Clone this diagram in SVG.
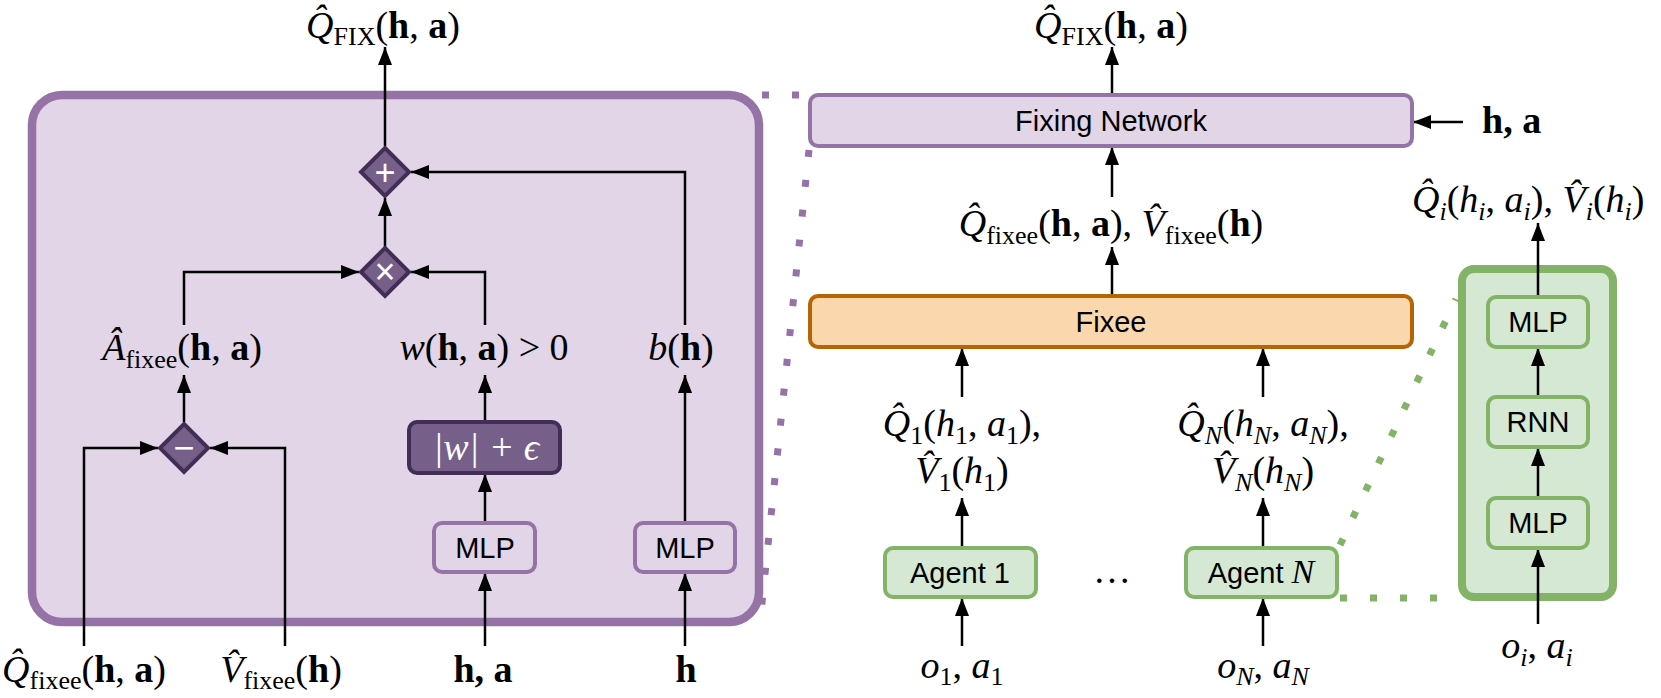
<svg xmlns="http://www.w3.org/2000/svg" width="1661" height="698" viewBox="0 0 1661 698">
<style>
.m{font-family:"Liberation Serif","DejaVu Serif",serif;font-size:38px;fill:#000;text-anchor:middle}
.i{font-style:italic}
.b{font-weight:bold}
.s{font-size:26px}
.t{font-family:"Liberation Sans",Arial,sans-serif;font-size:29px;text-anchor:middle;fill:#000}
.pl{fill:#e1d5e7;stroke:#9673a6;stroke-width:4}
.pd{fill:#76608a;stroke:#432d57;stroke-width:4}
.gr{fill:#d5e8d4;stroke:#82b366;stroke-width:4}
.or{fill:#fad7ac;stroke:#b46504;stroke-width:4}
.c{fill:none;stroke:#000;stroke-width:2.5;marker-end:url(#ah)}
.dp{fill:none;stroke:#9673a6;stroke-width:7;stroke-dasharray:7 23}
.dg{fill:none;stroke:#82b366;stroke-width:7;stroke-dasharray:7 23}
.op{font-family:"Liberation Sans",Arial,sans-serif;font-size:36px;fill:#fff;text-anchor:middle}
</style>
<defs>
<marker id="ah" markerUnits="userSpaceOnUse" markerWidth="20" markerHeight="16" refX="18" refY="8" orient="auto"><path d="M0,1 L18,8 L0,15 z" fill="#000"/></marker>
</defs>
<rect width="1661" height="698" fill="#fff"/>

<g id="fixing-detail">
<rect x="32" y="95" width="727" height="527" rx="30" fill="#e1d5e7" stroke="#9673a6" stroke-width="8.5"/>
</g>
<g id="agent-detail">
<rect x="1462" y="269" width="151" height="328" rx="12" fill="#d5e8d4" stroke="#82b366" stroke-width="8"/>
</g>

<g id="zoom-lines">
<path class="dp" d="M762,95 L809,95"/>
<path class="dp" d="M809,150 L760,622"/>
<path class="dg" d="M1340,545 L1456,299"/>
<path class="dg" d="M1340,598 L1460,598"/>
</g>

<g id="connectors">
<path class="c" d="M385,146 L385,47"/>
<path class="c" d="M385,247 L385,198"/>
<path class="c" d="M685,325 L685,172 L411,172"/>
<path class="c" d="M184,325 L184,272 L359,272"/>
<path class="c" d="M485,325 L485,272 L411,272"/>
<path class="c" d="M184,422 L184,375"/>
<path class="c" d="M84,646 L84,448 L158,448"/>
<path class="c" d="M285,646 L285,448 L210,448"/>
<path class="c" d="M485,420 L485,375"/>
<path class="c" d="M485,522 L485,474"/>
<path class="c" d="M485,646 L485,573"/>
<path class="c" d="M685,522 L685,375"/>
<path class="c" d="M685,646 L685,573"/>
<path class="c" d="M1112,95 L1112,47"/>
<path class="c" d="M1112,197 L1112,147"/>
<path class="c" d="M1112,295 L1112,247"/>
<path class="c" d="M962,397 L962,348"/>
<path class="c" d="M1263,397 L1263,348"/>
<path class="c" d="M962,547 L962,498"/>
<path class="c" d="M1263,547 L1263,498"/>
<path class="c" d="M962,646 L962,598"/>
<path class="c" d="M1263,646 L1263,598"/>
<path class="c" d="M1463,122 L1413,122"/>
<path class="c" d="M1538,624 L1538,549"/>
<path class="c" d="M1538,497 L1538,448"/>
<path class="c" d="M1538,396 L1538,348"/>
<path class="c" d="M1538,296 L1538,223"/>
</g>

<g id="op-plus">
<path class="pd" d="M385,148 L409,172 L385,196 L361,172 z"/>
<text class="op" x="385" y="185">+</text>
</g>
<g id="op-times">
<path class="pd" d="M385,248 L409,272 L385,296 L361,272 z"/>
<text class="op" x="385" y="284">×</text>
</g>
<g id="op-minus">
<path class="pd" d="M184,424 L208,448 L184,472 L160,448 z"/>
<text class="op" x="184" y="460">−</text>
</g>

<g id="abs-eps">
<rect class="pd" x="409" y="422" width="151" height="51" rx="8"/>
<text class="m i" x="486" y="460" style="fill:#fff">|w| + ϵ</text>
</g>
<g id="mlp-w">
<rect class="pl" x="434" y="523" width="101" height="49" rx="8"/>
<text class="t" x="485" y="558">MLP</text>
</g>
<g id="mlp-b">
<rect class="pl" x="635" y="523" width="100" height="49" rx="8"/>
<text class="t" x="685" y="558">MLP</text>
</g>

<g id="fixing-network">
<rect class="pl" x="810" y="95" width="602" height="51" rx="8"/>
<text class="t" x="1111" y="131">Fixing Network</text>
</g>
<g id="fixee">
<rect class="or" x="810" y="296" width="602" height="51" rx="8"/>
<text class="t" x="1111" y="332">Fixee</text>
</g>
<g id="agent-1">
<rect class="gr" x="885" y="548" width="151" height="49" rx="8"/>
<text class="t" x="960" y="583">Agent 1</text>
</g>
<g id="agent-n">
<rect class="gr" x="1186" y="548" width="151" height="49" rx="8"/>
<text class="t" x="1261" y="583">Agent <tspan class="i" style="font-family:'Liberation Serif',serif;font-size:34px">N</tspan></text>
</g>
<g id="agent-mlp-top">
<rect class="gr" x="1488" y="297" width="100" height="50" rx="8"/>
<text class="t" x="1538" y="332">MLP</text>
</g>
<g id="agent-rnn">
<rect class="gr" x="1488" y="397" width="100" height="50" rx="8"/>
<text class="t" x="1538" y="432">RNN</text>
</g>
<g id="agent-mlp-bottom">
<rect class="gr" x="1488" y="498" width="100" height="50" rx="8"/>
<text class="t" x="1538" y="533">MLP</text>
</g>

<g id="labels">
<text class="m" x="383" y="38"><tspan class="i">Q̂</tspan><tspan class="s" dy="7">FIX</tspan><tspan dy="-7">(</tspan><tspan class="b">h</tspan>, <tspan class="b">a</tspan>)</text>
<text class="m" x="1111" y="38"><tspan class="i">Q̂</tspan><tspan class="s" dy="7">FIX</tspan><tspan dy="-7">(</tspan><tspan class="b">h</tspan>, <tspan class="b">a</tspan>)</text>
<text class="m" x="1111" y="236"><tspan class="i">Q̂</tspan><tspan class="s" dy="8">fixee</tspan><tspan dy="-8">(</tspan><tspan class="b">h</tspan>, <tspan class="b">a</tspan>), <tspan class="i">V̂</tspan><tspan class="s" dy="8">fixee</tspan><tspan dy="-8">(</tspan><tspan class="b">h</tspan>)</text>
<text class="m" x="182" y="360"><tspan class="i">Â</tspan><tspan class="s" dy="8">fixee</tspan><tspan dy="-8">(</tspan><tspan class="b">h</tspan>, <tspan class="b">a</tspan>)</text>
<text class="m" x="484" y="360"><tspan class="i">w</tspan>(<tspan class="b">h</tspan>, <tspan class="b">a</tspan>)  &gt;  0</text>
<text class="m" x="681" y="360"><tspan class="i">b</tspan>(<tspan class="b">h</tspan>)</text>
<text class="m" x="84" y="682"><tspan class="i">Q̂</tspan><tspan class="s" dy="7">fixee</tspan><tspan dy="-7">(</tspan><tspan class="b">h</tspan>, <tspan class="b">a</tspan>)</text>
<text class="m" x="281" y="682"><tspan class="i">V̂</tspan><tspan class="s" dy="7">fixee</tspan><tspan dy="-7">(</tspan><tspan class="b">h</tspan>)</text>
<text class="m b" x="483" y="682">h, a</text>
<text class="m b" x="686" y="682">h</text>
<text class="m" x="962" y="436"><tspan class="i">Q̂</tspan><tspan class="s" dy="8">1</tspan><tspan dy="-8">(</tspan><tspan class="i">h</tspan><tspan class="s" dy="8">1</tspan><tspan dy="-8">, </tspan><tspan class="i">a</tspan><tspan class="s" dy="8">1</tspan><tspan dy="-8">),</tspan></text>
<text class="m" x="962" y="483"><tspan class="i">V̂</tspan><tspan class="s" dy="8">1</tspan><tspan dy="-8">(</tspan><tspan class="i">h</tspan><tspan class="s" dy="8">1</tspan><tspan dy="-8">)</tspan></text>
<text class="m" x="1263" y="436"><tspan class="i">Q̂</tspan><tspan class="s i" dy="8">N</tspan><tspan dy="-8">(</tspan><tspan class="i">h</tspan><tspan class="s i" dy="8">N</tspan><tspan dy="-8">, </tspan><tspan class="i">a</tspan><tspan class="s i" dy="8">N</tspan><tspan dy="-8">),</tspan></text>
<text class="m" x="1263" y="483"><tspan class="i">V̂</tspan><tspan class="s i" dy="8">N</tspan><tspan dy="-8">(</tspan><tspan class="i">h</tspan><tspan class="s i" dy="8">N</tspan><tspan dy="-8">)</tspan></text>
<text class="m" x="962" y="678"><tspan class="i">o</tspan><tspan class="s" dy="7">1</tspan><tspan dy="-7">, </tspan><tspan class="i">a</tspan><tspan class="s" dy="7">1</tspan></text>
<text class="m" x="1263" y="678"><tspan class="i">o</tspan><tspan class="s i" dy="7">N</tspan><tspan dy="-7">, </tspan><tspan class="i">a</tspan><tspan class="s i" dy="7">N</tspan></text>
<text class="m" x="1112" y="583">…</text>
<text class="m" x="1412" y="212" style="text-anchor:start"><tspan class="i">Q̂</tspan><tspan class="s i" dy="8">i</tspan><tspan dy="-8">(</tspan><tspan class="i">h</tspan><tspan class="s i" dy="8">i</tspan><tspan dy="-8">, </tspan><tspan class="i">a</tspan><tspan class="s i" dy="8">i</tspan><tspan dy="-8">), </tspan><tspan class="i">V̂</tspan><tspan class="s i" dy="8">i</tspan><tspan dy="-8">(</tspan><tspan class="i">h</tspan><tspan class="s i" dy="8">i</tspan><tspan dy="-8">)</tspan></text>
<text class="m" x="1537" y="658"><tspan class="i">o</tspan><tspan class="s i" dy="8">i</tspan><tspan dy="-8">, </tspan><tspan class="i">a</tspan><tspan class="s i" dy="8">i</tspan></text>
<text class="m b" x="1482" y="133" style="text-anchor:start">h, a</text>
</g>
</svg>
